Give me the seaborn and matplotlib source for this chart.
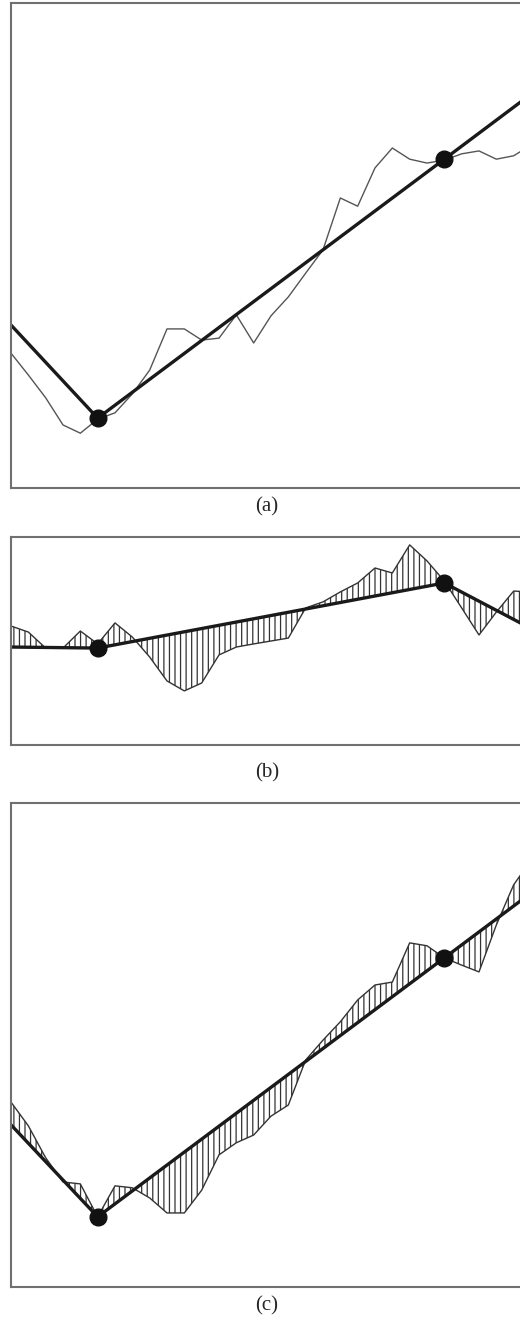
import numpy as np
import matplotlib
matplotlib.use("Agg")
import matplotlib.pyplot as plt
import seaborn as sns

sns.set_style("white")
plt.rcParams["font.family"] = ["Liberation Serif", "DejaVu Serif"]
plt.rcParams["hatch.linewidth"] = 0.9

# time index shared by all three panels
t = np.arange(31)

# piecewise-linear trend: knots and breakpoints
knot_t = [0, 5, 25, 30]
break_t = [5, 25]

# (a) observed series and fitted trend
series_a = [27.8, 23.3, 18.6, 13.0, 11.3, 14.2, 15.5, 19.4, 24.3, 32.8,
            32.8, 30.5, 30.9, 35.7, 29.9, 35.5, 39.4, 44.3, 49.1, 59.8,
            58.1, 66.0, 70.1, 67.8, 67.0, 67.6, 68.9, 69.5, 67.8, 68.5, 70.7]
trend_a = [33.6, 14.4, 67.8, 81.2]

# (b) series and trend
series_b = [57.2, 54.3, 46.6, 46.6, 54.8, 48.6, 58.7, 51.9, 42.3, 30.8,
            26.0, 29.8, 43.3, 47.1, 48.6, 50.0, 51.4, 65.9, 68.8, 73.6,
            77.9, 85.1, 82.7, 96.2, 88.5, 78.8, 65.9, 52.9, 63.9, 74.0, 73.6]
trend_b = [47.1, 46.6, 77.9, 56.0]

# (c) series and trend
series_c = [38.2, 33.3, 26.7, 21.7, 21.3, 14.5, 20.9, 20.5, 18.4, 15.3,
            15.3, 20.0, 27.3, 29.8, 31.4, 35.3, 37.6, 46.9, 51.0, 54.8,
            59.3, 62.4, 63.0, 71.1, 70.5, 68.0, 66.5, 65.1, 74.8, 83.1, 88.2]
trend_c = [33.5, 14.5, 68.0, 81.4]

panel_labels = ["(a)", "(b)", "(c)"]

W, H = 520, 1324
fig = plt.figure(figsize=(W / 100, H / 100), dpi=100)

# panel boxes in pixels: (top, bottom)
boxes = [(3, 488), (537, 745), (803, 1287)]
label_y = [507, 773, 1306]
left_px = 11
width_px = 520

panels = [
    (series_a, trend_a, False),
    (series_b, trend_b, True),
    (series_c, trend_c, True),
]

for (top, bot), (series, trend, hatched), lab, ly in zip(boxes, panels, panel_labels, label_y):
    ax = fig.add_axes([left_px / W, 1 - bot / H, width_px / W, (bot - top) / H])
    series = np.asarray(series)
    trend_full = np.interp(t, knot_t, trend)
    if hatched:
        ax.fill_between(t, series, trend_full, interpolate=True,
                        facecolor="none", edgecolor="#333333",
                        hatch="|||", linewidth=0)
        sns.lineplot(x=t, y=series, ax=ax, color="#333333", linewidth=1.0)
    else:
        sns.lineplot(x=t, y=series, ax=ax, color="#555555", linewidth=1.0)
    sns.lineplot(x=knot_t, y=trend, ax=ax, color="#1a1a1a", linewidth=2.4)
    bp_y = np.interp(break_t, knot_t, trend)
    ax.plot(break_t, bp_y, "o", color="#111111", markersize=12, zorder=5)
    ax.set_xlim(0, 30)
    ax.set_ylim(0, 100)
    ax.set_xticks([])
    ax.set_yticks([])
    ax.set_xlabel("")
    ax.set_ylabel("")
    for sp in ax.spines.values():
        sp.set_color("#707070")
        sp.set_linewidth(1.5)
    fig.text(267 / W, 1 - ly / H, lab, ha="center", va="center", fontsize=15)

fig.savefig("out.png", dpi=100, facecolor="white")
